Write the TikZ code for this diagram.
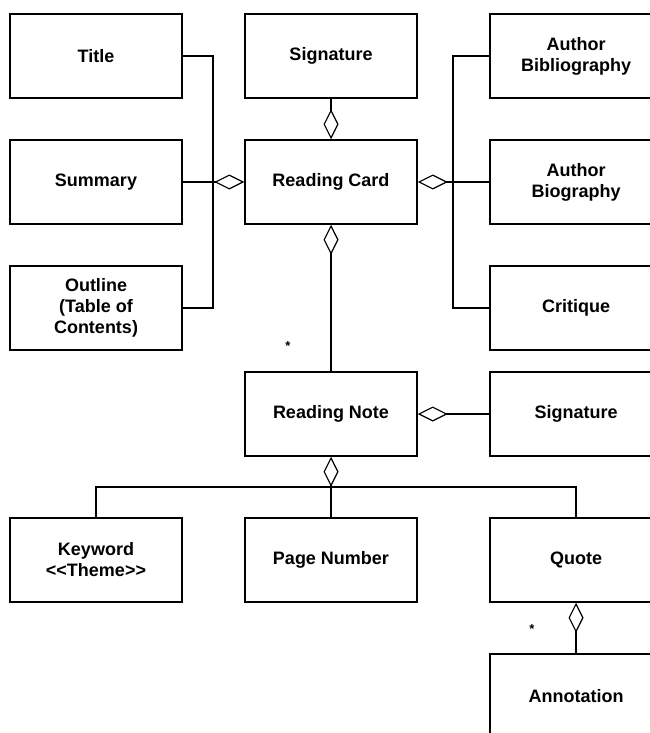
\documentclass[tikz,border=0pt]{standalone}
\usepackage{fontspec}
\setmainfont{Liberation Sans}
\usetikzlibrary{arrows.meta}
\begin{document}
\begin{tikzpicture}[x=1pt,y=-1pt,
  umlbox/.style={draw, line width=1.5pt, minimum width=172pt, minimum height=84pt,
    inner sep=0pt, align=center, font=\fontsize{18}{21}\selectfont\bfseries},
  conn/.style={line width=1.2pt},
  diam/.style={line width=1.2pt, -{Diamond[open, length=30pt, width=15pt, line width=1.2pt]}},
  star/.style={font=\fontsize{13}{13}\selectfont\bfseries, inner sep=0pt}]
\useasboundingbox (0,0) rectangle (650,733);
\clip (0,0) rectangle (650,733);
% column 1
\node[umlbox] (title) at (96,56) {Title};
\node[umlbox] (sum) at (96,182) {Summary};
\node[umlbox] (outl) at (96,308) {Outline\\(Table of\\Contents)};
\node[umlbox] (kw) at (96,560) {Keyword\\<{}<Theme>{}>};
% column 2
\node[umlbox] (sig) at (331,56) {Signature};
\node[umlbox] (rc) at (331,182) {Reading Card};
\node[umlbox] (rn) at (331,414) {Reading Note};
\node[umlbox] (pn) at (331,560) {Page Number};
% column 3
\node[umlbox] (abib) at (576,56) {Author\\Bibliography};
\node[umlbox] (abio) at (576,182) {Author\\Biography};
\node[umlbox] (crit) at (576,308) {Critique};
\node[umlbox] (sig2) at (576,414) {Signature};
\node[umlbox] (qt) at (576,560) {Quote};
\node[umlbox] (ann) at (576,696) {Annotation};
% junctions
\coordinate (jl) at (213,182);
\coordinate (jr) at (453,182);
\coordinate (bus) at (331,487);
% connectors
\draw[diam] (sum.east) -- (rc.west);
\draw[conn] (title.east) -| (jl) |- (outl.east);
\draw[diam] (abio.west) -- (rc.east);
\draw[conn] (abib.west) -| (jr) |- (crit.west);
\draw[diam] (sig.south) -- (rc.north);
\draw[diam] (rn.north) -- (rc.south);
\draw[diam] (sig2.west) -- (rn.east);
\draw[diam] (pn.north) -- (rn.south);
\draw[conn] (kw.north) |- (bus) -| (qt.north);
\draw[diam] (ann.north) -- (qt.south);
% multiplicities
\node[star] (m1) at (288,346) {*};
\node[star] (m2) at (532,629) {*};
\end{tikzpicture}
\end{document}
